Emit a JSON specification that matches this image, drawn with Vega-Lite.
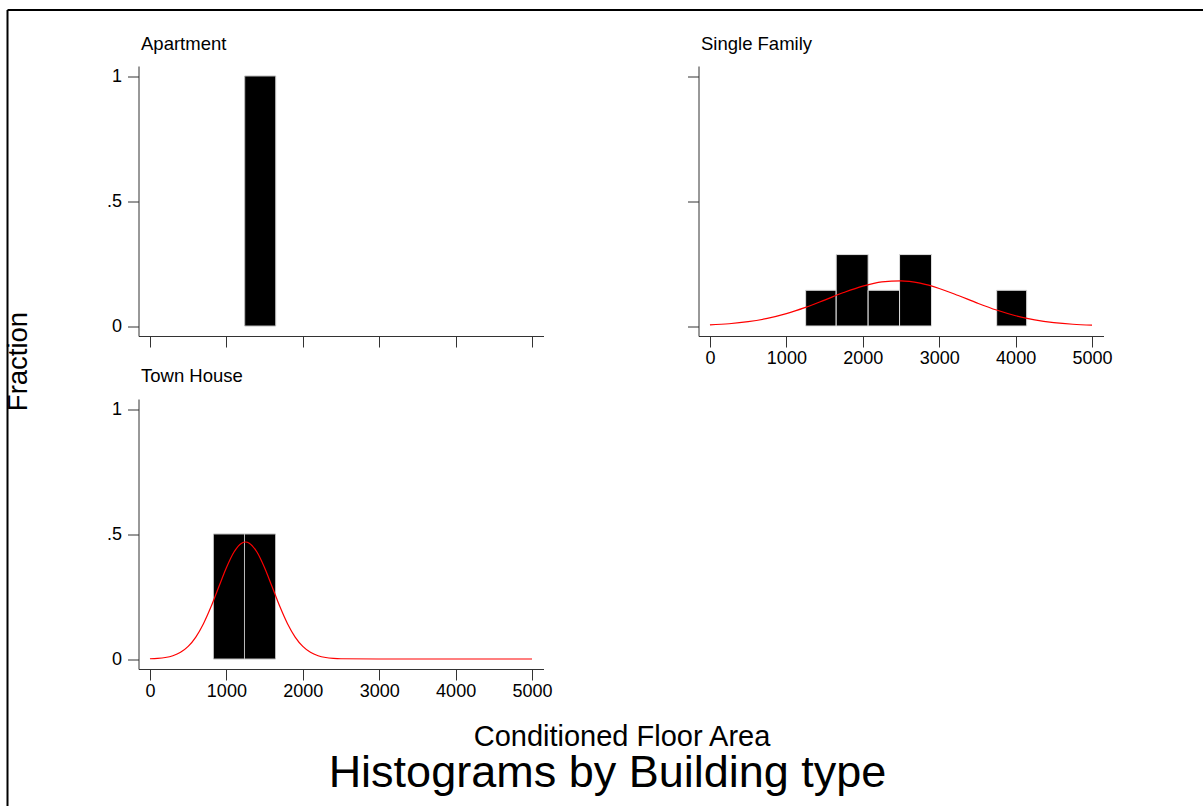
{
  "$schema": "https://vega.github.io/schema/vega-lite/v6.json",
  "width": 1190,
  "height": 790,
  "autosize": {"type": "pad"},
  "padding": {"left": 4, "top": 9.5, "right": 0, "bottom": 0},
  "background": "white",
  "title": {
    "text": "Histograms by Building type",
    "orient": "top",
    "frame": "group",
    "anchor": "middle",
    "offset": -822,
    "dx": 5.5,
    "baseline": "alphabetic",
    "font": "Liberation Sans",
    "fontSize": 45,
    "fontWeight": "normal",
    "color": "black"
  },
  "config": {
    "view": {"stroke": null},
    "font": "Liberation Sans",
    "axis": {
      "grid": false,
      "domainColor": "#333333",
      "domainWidth": 1,
      "tickColor": "#333333",
      "tickWidth": 1,
      "tickSize": 11,
      "labelFont": "Liberation Sans",
      "labelFontSize": 18,
      "labelColor": "black",
      "labelPadding": 2,
      "labelFlush": false,
      "labelOverlap": false,
      "titleFont": "Liberation Sans",
      "titleFontWeight": "normal",
      "titleColor": "black",
      "titleFontSize": 18.5,
      "titleBaseline": "alphabetic"
    }
  },
  "datasets": {
    "bars": [
      {"type": "Apartment", "x0": 1240, "x1": 1645, "frac": 1},
      {"type": "Single Family", "x0": 1252, "x1": 1652, "frac": 0.1429},
      {"type": "Single Family", "x0": 1652, "x1": 2070, "frac": 0.2857},
      {"type": "Single Family", "x0": 2070, "x1": 2481, "frac": 0.1429},
      {"type": "Single Family", "x0": 2481, "x1": 2899, "frac": 0.2857},
      {"type": "Single Family", "x0": 3752, "x1": 4145, "frac": 0.1429},
      {"type": "Town House", "x0": 831, "x1": 1237, "frac": 0.5},
      {"type": "Town House", "x0": 1237, "x1": 1643, "frac": 0.5}
    ],
    "curves": [
      {"type": "Single Family", "x": 0, "y": 0.0045},
      {"type": "Single Family", "x": 250, "y": 0.0091},
      {"type": "Single Family", "x": 500, "y": 0.0173},
      {"type": "Single Family", "x": 750, "y": 0.0304},
      {"type": "Single Family", "x": 1000, "y": 0.0494},
      {"type": "Single Family", "x": 1250, "y": 0.0744},
      {"type": "Single Family", "x": 1500, "y": 0.1037},
      {"type": "Single Family", "x": 1750, "y": 0.1338},
      {"type": "Single Family", "x": 2000, "y": 0.1597},
      {"type": "Single Family", "x": 2250, "y": 0.1766},
      {"type": "Single Family", "x": 2500, "y": 0.1807},
      {"type": "Single Family", "x": 2750, "y": 0.1712},
      {"type": "Single Family", "x": 3000, "y": 0.1502},
      {"type": "Single Family", "x": 3250, "y": 0.1219},
      {"type": "Single Family", "x": 3500, "y": 0.0916},
      {"type": "Single Family", "x": 3750, "y": 0.0638},
      {"type": "Single Family", "x": 4000, "y": 0.0411},
      {"type": "Single Family", "x": 4250, "y": 0.0245},
      {"type": "Single Family", "x": 4500, "y": 0.0135},
      {"type": "Single Family", "x": 4750, "y": 0.0069},
      {"type": "Single Family", "x": 5000, "y": 0.0033},
      {"type": "Town House", "x": 0, "y": 0.0010},
      {"type": "Town House", "x": 100, "y": 0.0025},
      {"type": "Town House", "x": 200, "y": 0.0059},
      {"type": "Town House", "x": 300, "y": 0.0130},
      {"type": "Town House", "x": 400, "y": 0.0266},
      {"type": "Town House", "x": 500, "y": 0.0502},
      {"type": "Town House", "x": 600, "y": 0.0876},
      {"type": "Town House", "x": 700, "y": 0.1410},
      {"type": "Town House", "x": 800, "y": 0.2096},
      {"type": "Town House", "x": 900, "y": 0.2879},
      {"type": "Town House", "x": 1000, "y": 0.3652},
      {"type": "Town House", "x": 1100, "y": 0.4280},
      {"type": "Town House", "x": 1200, "y": 0.4634},
      {"type": "Town House", "x": 1250, "y": 0.4680},
      {"type": "Town House", "x": 1300, "y": 0.4634},
      {"type": "Town House", "x": 1400, "y": 0.4280},
      {"type": "Town House", "x": 1500, "y": 0.3652},
      {"type": "Town House", "x": 1600, "y": 0.2879},
      {"type": "Town House", "x": 1700, "y": 0.2096},
      {"type": "Town House", "x": 1800, "y": 0.1410},
      {"type": "Town House", "x": 1900, "y": 0.0876},
      {"type": "Town House", "x": 2000, "y": 0.0502},
      {"type": "Town House", "x": 2100, "y": 0.0266},
      {"type": "Town House", "x": 2200, "y": 0.0130},
      {"type": "Town House", "x": 2300, "y": 0.0059},
      {"type": "Town House", "x": 2400, "y": 0.0025},
      {"type": "Town House", "x": 2500, "y": 0.0010},
      {"type": "Town House", "x": 3000, "y": 0},
      {"type": "Town House", "x": 3500, "y": 0},
      {"type": "Town House", "x": 4000, "y": 0},
      {"type": "Town House", "x": 4500, "y": 0},
      {"type": "Town House", "x": 5000, "y": 0}
    ],
    "frame": [{"a": 0.5}]
  },
  "layer": [
    {
      "data": {"name": "frame"},
      "mark": {"type": "point", "opacity": 0},
      "encoding": {
        "x": {"field": "a", "type": "quantitative",
          "scale": {"domain": [0, 1], "range": [0, 1196], "nice": false, "zero": false},
          "axis": {"orient": "top", "offset": 0, "domainColor": "black", "domainWidth": 2, "ticks": false, "labels": false, "title": null}},
        "y": {"field": "a", "type": "quantitative",
          "scale": {"domain": [0, 1], "range": [0, 796], "nice": false, "zero": false},
          "axis": {"orient": "left", "offset": 0, "domainColor": "black", "domainWidth": 2, "ticks": false, "labels": false, "title": null}}
      }
    },
    {
      "data": {"name": "bars"},
      "transform": [{"filter": "datum.type === 'Apartment'"}],
      "mark": {"type": "rect", "fill": "black", "stroke": "#bbbbbb", "strokeWidth": 1},
      "encoding": {
        "x": {"field": "x0", "type": "quantitative",
          "scale": {"domain": [-150, 5150], "range": [131.5, 536.5], "nice": false, "zero": false},
          "axis": {"orient": "bottom", "offset": -463.5, "values": [0, 1000, 2000, 3000, 4000, 5000], "labels": false,
            "title": "Apartment", "titleX": 133.5, "titleY": -287, "titleAlign": "left"}},
        "x2": {"field": "x1"},
        "y": {"field": "frac", "type": "quantitative",
          "scale": {"domain": [-0.04, 1.04], "range": [326.5, 56.5], "nice": false, "zero": false},
          "axis": {"orient": "left", "offset": -131.5, "values": [0, 0.5, 1], "labelPadding": 6,
            "labelExpr": "datum.value == 0.5 ? '.5' : format(datum.value, 'd')",
            "title": "Fraction", "titleX": -112, "titleY": 351.5, "titleAngle": 270, "titleAlign": "center", "titleFontSize": 27.5}},
        "y2": {"datum": 0}
      }
    },
    {
      "layer": [
        {
          "data": {"name": "bars"},
          "transform": [{"filter": "datum.type === 'Single Family'"}],
          "mark": {"type": "rect", "fill": "black", "stroke": "#dddddd", "strokeWidth": 1},
          "encoding": {
            "x": {"field": "x0", "type": "quantitative",
              "scale": {"domain": [-150, 5150], "range": [691.5, 1096.5], "nice": false, "zero": false},
              "axis": {"orient": "bottom", "offset": -463.5, "values": [0, 1000, 2000, 3000, 4000, 5000], "format": "d", "title": null}},
            "x2": {"field": "x1"},
            "y": {"field": "frac", "type": "quantitative",
              "scale": {"domain": [-0.04, 1.04], "range": [326.5, 56.5], "nice": false, "zero": false},
              "axis": {"orient": "left", "offset": -691.5, "values": [0, 0.5, 1], "labels": false,
                "title": "Single Family", "titleX": 2, "titleY": 39.5, "titleAngle": 0, "titleAlign": "left"}},
            "y2": {"datum": 0}
          }
        },
        {
          "data": {"name": "curves"},
          "transform": [{"filter": "datum.type === 'Single Family'"}],
          "mark": {"type": "line", "color": "#ff0000", "strokeWidth": 1.2, "interpolate": "monotone"},
          "encoding": {
            "x": {"field": "x", "type": "quantitative",
              "scale": {"domain": [-150, 5150], "range": [691.5, 1096.5], "nice": false, "zero": false},
              "axis": {"orient": "bottom", "offset": -463.5, "values": [0, 1000, 2000, 3000, 4000, 5000], "format": "d", "title": null}},
            "y": {"field": "y", "type": "quantitative",
              "scale": {"domain": [-0.04, 1.04], "range": [326.5, 56.5], "nice": false, "zero": false},
              "axis": {"orient": "left", "offset": -691.5, "values": [0, 0.5, 1], "labels": false,
                "title": "Single Family", "titleX": 2, "titleY": 39.5, "titleAngle": 0, "titleAlign": "left"}}
          }
        }
      ]
    },
    {
      "layer": [
        {
          "data": {"name": "bars"},
          "transform": [{"filter": "datum.type === 'Town House'"}],
          "mark": {"type": "rect", "fill": "black", "stroke": "#bbbbbb", "strokeWidth": 1},
          "encoding": {
            "x": {"field": "x0", "type": "quantitative",
              "scale": {"domain": [-150, 5150], "range": [131.5, 536.5], "nice": false, "zero": false},
              "axis": {"orient": "bottom", "offset": -130.5, "values": [0, 1000, 2000, 3000, 4000, 5000], "format": "d",
                "title": "Conditioned Floor Area", "titleX": 614.5, "titleY": 76, "titleAlign": "center", "titleFontSize": 29}},
            "x2": {"field": "x1"},
            "y": {"field": "frac", "type": "quantitative",
              "scale": {"domain": [-0.04, 1.04], "range": [659.5, 389.5], "nice": false, "zero": false},
              "axis": {"orient": "left", "offset": -131.5, "values": [0, 0.5, 1], "labelPadding": 6,
                "labelExpr": "datum.value == 0.5 ? '.5' : format(datum.value, 'd')",
                "title": "Town House", "titleX": 2, "titleY": 371.5, "titleAngle": 0, "titleAlign": "left"}},
            "y2": {"datum": 0}
          }
        },
        {
          "data": {"name": "curves"},
          "transform": [{"filter": "datum.type === 'Town House'"}],
          "mark": {"type": "line", "color": "#ff0000", "strokeWidth": 1.2, "interpolate": "monotone"},
          "encoding": {
            "x": {"field": "x", "type": "quantitative",
              "scale": {"domain": [-150, 5150], "range": [131.5, 536.5], "nice": false, "zero": false},
              "axis": {"orient": "bottom", "offset": -130.5, "values": [0, 1000, 2000, 3000, 4000, 5000], "format": "d",
                "title": "Conditioned Floor Area", "titleX": 614.5, "titleY": 76, "titleAlign": "center", "titleFontSize": 29}},
            "y": {"field": "y", "type": "quantitative",
              "scale": {"domain": [-0.04, 1.04], "range": [659.5, 389.5], "nice": false, "zero": false},
              "axis": {"orient": "left", "offset": -131.5, "values": [0, 0.5, 1], "labelPadding": 6,
                "labelExpr": "datum.value == 0.5 ? '.5' : format(datum.value, 'd')",
                "title": "Town House", "titleX": 2, "titleY": 371.5, "titleAngle": 0, "titleAlign": "left"}}
          }
        }
      ]
    }
  ],
  "resolve": {
    "scale": {"x": "independent", "y": "independent"},
    "axis": {"x": "independent", "y": "independent"}
  }
}
